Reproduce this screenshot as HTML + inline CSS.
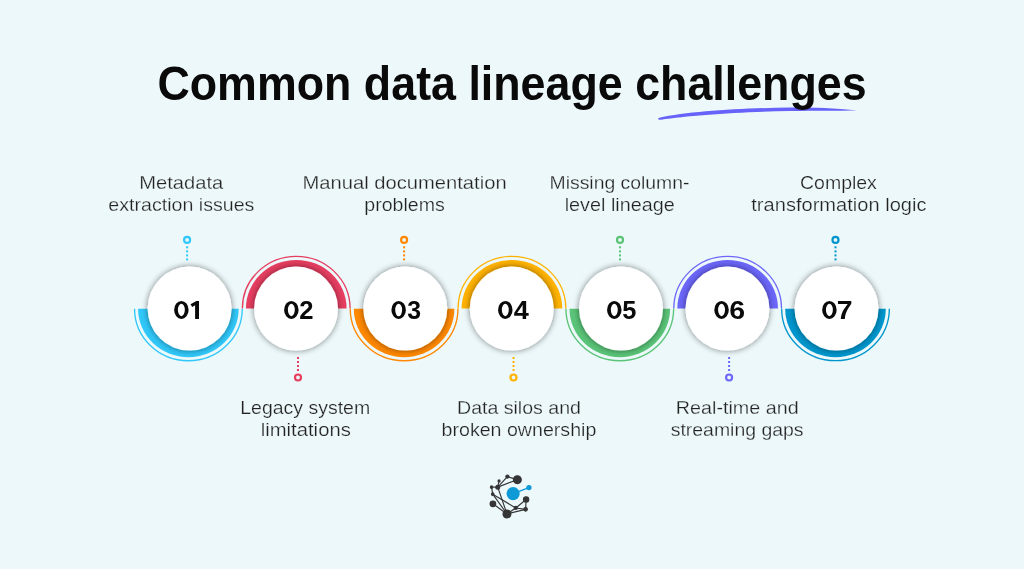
<!DOCTYPE html>
<html><head><meta charset="utf-8">
<style>
html,body{margin:0;padding:0;background:#EDF8FA;}
body{width:1024px;height:569px;overflow:hidden;position:relative;}
svg{position:absolute;left:0;top:0;will-change:transform;}
.title{font-family:"Liberation Sans",sans-serif;font-weight:bold;font-size:47.5px;fill:#0A0A0A;text-anchor:middle;}
.num{font-family:"Liberation Sans",sans-serif;font-weight:bold;font-size:25px;fill:#0A0A0A;}
.lab{font-family:"Liberation Sans",sans-serif;font-size:18px;fill:#222222;stroke:#EDF8FA;stroke-width:0.25px;text-anchor:middle;}
</style></head>
<body>
<svg width="1024" height="569" viewBox="0 0 1024 569">
<defs>
<filter id="sh" x="-30%" y="-30%" width="160%" height="160%">
<feGaussianBlur in="SourceAlpha" stdDeviation="3.0"/>
<feComponentTransfer><feFuncA type="linear" slope="0.5"/></feComponentTransfer>
<feMerge><feMergeNode/><feMergeNode in="SourceGraphic"/></feMerge>
</filter>
</defs>
<path d="M658.6,118.0 C690,111 740,108.3 790,107.5 C820,107.2 845,109 857,110.4 C840,110.7 815,110.4 790,111.1 C740,112 690,115.5 661,119.8 C658.5,120 657.5,118.8 658.6,118.0 Z" fill="#6662FA"/>
<text x="512" y="99.6" class="title" transform="matrix(0.9429,0,0,1,29.235,0)">Common data lineage challenges</text>
<path d="M138.10,308.75 A50.3,48.5 0 0 0 238.70,308.75 Z" fill="#30C8FA"/><path d="M134.55,308.75 A53.85,52.0 0 0 0 242.25,308.75" fill="none" stroke="#30C8FA" stroke-width="1.35"/><path d="M245.95,308.4 A50.3,48.5 0 0 1 346.55,308.4 Z" fill="#E63E60"/><path d="M242.40,308.4 A53.85,52.0 0 0 1 350.10,308.4" fill="none" stroke="#E63E60" stroke-width="1.35"/><path d="M353.80,308.75 A50.3,48.5 0 0 0 454.40,308.75 Z" fill="#FF8800"/><path d="M350.25,308.75 A53.85,52.0 0 0 0 457.95,308.75" fill="none" stroke="#FF8800" stroke-width="1.35"/><path d="M461.65,308.4 A50.3,48.5 0 0 1 562.25,308.4 Z" fill="#FFB200"/><path d="M458.10,308.4 A53.85,52.0 0 0 1 565.80,308.4" fill="none" stroke="#FFB200" stroke-width="1.35"/><path d="M569.50,308.75 A50.3,48.5 0 0 0 670.10,308.75 Z" fill="#5AC478"/><path d="M565.95,308.75 A53.85,52.0 0 0 0 673.65,308.75" fill="none" stroke="#5AC478" stroke-width="1.35"/><path d="M677.35,308.4 A50.3,48.5 0 0 1 777.95,308.4 Z" fill="#6C66FA"/><path d="M673.80,308.4 A53.85,52.0 0 0 1 781.50,308.4" fill="none" stroke="#6C66FA" stroke-width="1.35"/><path d="M785.20,308.75 A50.3,48.5 0 0 0 885.80,308.75 Z" fill="#0096CD"/><path d="M781.65,308.75 A53.85,52.0 0 0 0 889.35,308.75" fill="none" stroke="#0096CD" stroke-width="1.35"/><circle cx="189.60" cy="308.6" r="42.0" fill="#fff" filter="url(#sh)"/><circle cx="296.05" cy="308.6" r="42.0" fill="#fff" filter="url(#sh)"/><circle cx="405.30" cy="308.6" r="42.0" fill="#fff" filter="url(#sh)"/><circle cx="511.75" cy="308.6" r="42.0" fill="#fff" filter="url(#sh)"/><circle cx="621.00" cy="308.6" r="42.0" fill="#fff" filter="url(#sh)"/><circle cx="727.45" cy="308.6" r="42.0" fill="#fff" filter="url(#sh)"/><circle cx="836.50" cy="308.6" r="42.0" fill="#fff" filter="url(#sh)"/><path fill-rule="evenodd" fill="#0A0A0A" d="M174.12,309.95 a7.25,9.05 0 1 0 14.5,0 a7.25,9.05 0 1 0 -14.5,0 Z M177.92,309.95 a3.45,6.25 0 1 0 6.9,0 a3.45,6.25 0 1 0 -6.9,0 Z"/><path fill="#0A0A0A" d="M199.0,300.9 L199.0,319.0 L195.1,319.0 L195.1,305.3 L192.3,307.0 L190.5,304.3 L196.4,300.9 Z"/><path fill-rule="evenodd" fill="#0A0A0A" d="M284.10,309.95 a7.25,9.05 0 1 0 14.5,0 a7.25,9.05 0 1 0 -14.5,0 Z M287.90,309.95 a3.45,6.25 0 1 0 6.9,0 a3.45,6.25 0 1 0 -6.9,0 Z"/><text x="0" y="0" class="num" transform="matrix(1.0250,0,0,1.0343,299.277,319.000)">2</text><path fill-rule="evenodd" fill="#0A0A0A" d="M391.40,309.95 a7.25,9.05 0 1 0 14.5,0 a7.25,9.05 0 1 0 -14.5,0 Z M395.20,309.95 a3.45,6.25 0 1 0 6.9,0 a3.45,6.25 0 1 0 -6.9,0 Z"/><text x="0" y="0" class="num" transform="matrix(0.9919,0,0,1.0169,407.305,318.695)">3</text><path fill-rule="evenodd" fill="#0A0A0A" d="M498.05,309.95 a7.25,9.05 0 1 0 14.5,0 a7.25,9.05 0 1 0 -14.5,0 Z M501.85,309.95 a3.45,6.25 0 1 0 6.9,0 a3.45,6.25 0 1 0 -6.9,0 Z"/><text x="0" y="0" class="num" transform="matrix(1.0821,0,0,1.0523,513.767,319.000)">4</text><path fill-rule="evenodd" fill="#0A0A0A" d="M607.05,309.95 a7.25,9.05 0 1 0 14.5,0 a7.25,9.05 0 1 0 -14.5,0 Z M610.85,309.95 a3.45,6.25 0 1 0 6.9,0 a3.45,6.25 0 1 0 -6.9,0 Z"/><text x="0" y="0" class="num" transform="matrix(1.0161,0,0,1.0343,622.287,318.793)">5</text><path fill-rule="evenodd" fill="#0A0A0A" d="M714.30,309.95 a7.25,9.05 0 1 0 14.5,0 a7.25,9.05 0 1 0 -14.5,0 Z M718.10,309.95 a3.45,6.25 0 1 0 6.9,0 a3.45,6.25 0 1 0 -6.9,0 Z"/><text x="0" y="0" class="num" transform="matrix(1.1405,0,0,1.0169,729.374,318.797)">6</text><path fill-rule="evenodd" fill="#0A0A0A" d="M822.15,309.95 a7.25,9.05 0 1 0 14.5,0 a7.25,9.05 0 1 0 -14.5,0 Z M825.95,309.95 a3.45,6.25 0 1 0 6.9,0 a3.45,6.25 0 1 0 -6.9,0 Z"/><text x="0" y="0" class="num" transform="matrix(1.1368,0,0,1.0523,836.850,319.000)">7</text><circle cx="187.1" cy="239.9" r="3" fill="none" stroke="#30C8FA" stroke-width="2.2"/><rect x="186.10" y="246.30" width="2" height="2" fill="#30C8FA"/><rect x="186.10" y="250.40" width="2" height="2" fill="#30C8FA"/><rect x="186.10" y="254.40" width="2" height="2" fill="#30C8FA"/><rect x="186.10" y="258.40" width="2" height="2" fill="#30C8FA"/><circle cx="298.0" cy="377.5" r="3" fill="none" stroke="#E63E60" stroke-width="2.2"/><rect x="297.00" y="357.00" width="2" height="2" fill="#E63E60"/><rect x="297.00" y="361.00" width="2" height="2" fill="#E63E60"/><rect x="297.00" y="365.00" width="2" height="2" fill="#E63E60"/><rect x="297.00" y="369.00" width="2" height="2" fill="#E63E60"/><circle cx="404.1" cy="239.9" r="3" fill="none" stroke="#FF8800" stroke-width="2.2"/><rect x="403.10" y="246.30" width="2" height="2" fill="#FF8800"/><rect x="403.10" y="250.40" width="2" height="2" fill="#FF8800"/><rect x="403.10" y="254.40" width="2" height="2" fill="#FF8800"/><rect x="403.10" y="258.40" width="2" height="2" fill="#FF8800"/><circle cx="513.5" cy="377.5" r="3" fill="none" stroke="#FFB200" stroke-width="2.2"/><rect x="512.50" y="357.00" width="2" height="2" fill="#FFB200"/><rect x="512.50" y="361.00" width="2" height="2" fill="#FFB200"/><rect x="512.50" y="365.00" width="2" height="2" fill="#FFB200"/><rect x="512.50" y="369.00" width="2" height="2" fill="#FFB200"/><circle cx="620.0" cy="239.9" r="3" fill="none" stroke="#5AC478" stroke-width="2.2"/><rect x="619.00" y="246.30" width="2" height="2" fill="#5AC478"/><rect x="619.00" y="250.40" width="2" height="2" fill="#5AC478"/><rect x="619.00" y="254.40" width="2" height="2" fill="#5AC478"/><rect x="619.00" y="258.40" width="2" height="2" fill="#5AC478"/><circle cx="729.1" cy="377.5" r="3" fill="none" stroke="#6C66FA" stroke-width="2.2"/><rect x="728.10" y="357.00" width="2" height="2" fill="#6C66FA"/><rect x="728.10" y="361.00" width="2" height="2" fill="#6C66FA"/><rect x="728.10" y="365.00" width="2" height="2" fill="#6C66FA"/><rect x="728.10" y="369.00" width="2" height="2" fill="#6C66FA"/><circle cx="835.5" cy="239.9" r="3" fill="none" stroke="#0096CD" stroke-width="2.2"/><rect x="834.50" y="246.30" width="2" height="2" fill="#0096CD"/><rect x="834.50" y="250.40" width="2" height="2" fill="#0096CD"/><rect x="834.50" y="254.40" width="2" height="2" fill="#0096CD"/><rect x="834.50" y="258.40" width="2" height="2" fill="#0096CD"/><text x="181.20" y="188.85" class="lab" transform="matrix(1.1216,0,0,1,-22.038,0)">Metadata</text><text x="181.40" y="210.8" class="lab" transform="matrix(1.0902,0,0,1,-16.367,0)">extraction issues</text><text x="305.20" y="413.9" class="lab" transform="matrix(1.0831,0,0,1,-25.347,0)">Legacy system</text><text x="305.77" y="436.0" class="lab" transform="matrix(1.1272,0,0,1,-38.899,0)">limitations</text><text x="404.55" y="188.85" class="lab" transform="matrix(1.1217,0,0,1,-49.220,0)">Manual documentation</text><text x="404.55" y="210.8" class="lab" transform="matrix(1.0890,0,0,1,-36.022,0)">problems</text><text x="518.95" y="413.9" class="lab" transform="matrix(1.0866,0,0,1,-44.945,0)">Data silos and</text><text x="518.95" y="436.0" class="lab" transform="matrix(1.0893,0,0,1,-46.335,0)">broken ownership</text><text x="619.50" y="188.85" class="lab" transform="matrix(1.0766,0,0,1,-47.430,0)">Missing column-</text><text x="619.70" y="210.8" class="lab" transform="matrix(1.1000,0,0,1,-61.970,0)">level lineage</text><text x="737.20" y="413.9" class="lab" transform="matrix(1.0964,0,0,1,-71.039,0)">Real-time and</text><text x="737.12" y="436.0" class="lab" transform="matrix(1.0799,0,0,1,-58.910,0)">streaming gaps</text><text x="838.40" y="188.85" class="lab" transform="matrix(1.0829,0,0,1,-69.467,0)">Complex</text><text x="838.90" y="210.8" class="lab" transform="matrix(1.1159,0,0,1,-97.248,0)">transformation logic</text>
<g stroke="#353535" stroke-width="1.15" fill="#353535"><line x1="507.41" y1="476.59" x2="517.34" y2="479.67"/><line x1="507.41" y1="476.59" x2="497.74" y2="487.14"/><line x1="517.34" y1="479.67" x2="497.74" y2="487.14"/><line x1="499.06" y1="480.98" x2="497.74" y2="487.14"/><line x1="491.59" y1="487.14" x2="497.74" y2="487.14"/><line x1="491.59" y1="487.14" x2="492.73" y2="494.17"/><line x1="497.74" y1="487.14" x2="506.97" y2="513.94"/><line x1="492.73" y1="494.17" x2="506.97" y2="513.94"/><line x1="492.73" y1="494.17" x2="515.76" y2="507.96"/><line x1="492.91" y1="503.83" x2="506.97" y2="513.94"/><line x1="506.97" y1="513.94" x2="515.76" y2="507.96"/><line x1="506.97" y1="513.94" x2="525.60" y2="509.37"/><line x1="515.76" y1="507.96" x2="526.12" y2="499.44"/><line x1="526.12" y1="499.44" x2="525.60" y2="509.37"/><line x1="515.76" y1="507.96" x2="525.60" y2="509.37"/><circle cx="517.34" cy="479.67" r="3.95"/><circle cx="507.41" cy="476.59" r="1.58"/><circle cx="499.06" cy="480.98" r="1.05"/><circle cx="491.59" cy="487.14" r="1.23"/><circle cx="497.74" cy="487.14" r="1.93"/><circle cx="492.73" cy="494.17" r="1.23"/><circle cx="492.91" cy="503.83" r="2.81"/><circle cx="506.97" cy="513.94" r="3.95"/><circle cx="515.76" cy="507.96" r="1.58"/><circle cx="525.60" cy="509.37" r="1.76"/><circle cx="526.12" cy="499.44" r="2.64"/></g><line x1="513.12" y1="493.55" x2="528.94" y2="487.57" stroke="#0E9AD7" stroke-width="1.4"/><circle cx="513.12" cy="493.55" r="6.59" fill="#0E9AD7"/><circle cx="528.94" cy="487.57" r="2.64" fill="#0E9AD7"/>
</svg>
</body></html>
